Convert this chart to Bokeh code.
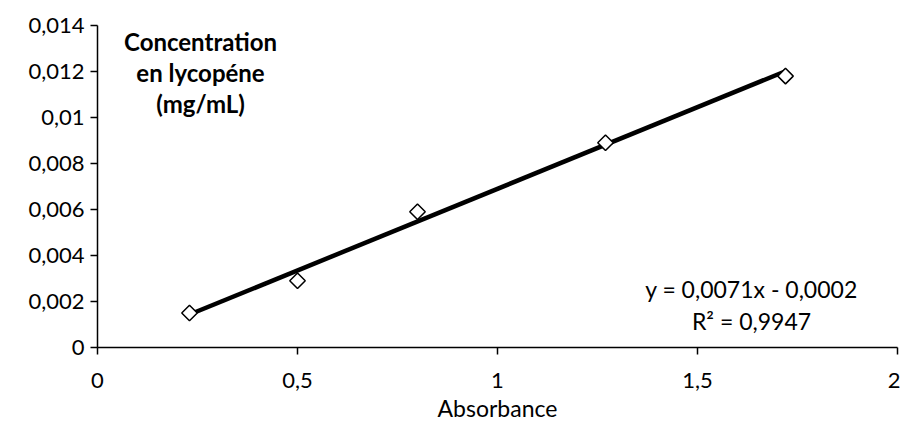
import numpy as np
from bokeh.plotting import figure
from bokeh.models import Range1d, FixedTicker, CustomJSTickFormatter, Label
from bokeh.embed import file_html
from bokeh.resources import INLINE

# Data
absorbance = [0.23, 0.50, 0.80, 1.27, 1.72]
concentration = [0.0015, 0.0029, 0.0059, 0.0089, 0.0118]
slope = 0.0071
intercept = -0.0002
x_ticks = [0, 0.5, 1, 1.5, 2]
y_ticks = [0, 0.002, 0.004, 0.006, 0.008, 0.01, 0.012, 0.014]
title_lines = ["Concentration", "en lycopéne", "(mg/mL)"]
equation_lines = ["y = 0,0071x - 0,0002", "R² = 0,9947"]
x_title = "Absorbance"

FONT = "Lato"

p = figure(width=900, height=428, output_backend="svg", toolbar_location=None,
           x_range=Range1d(0, 2), y_range=Range1d(0, 0.014),
           min_border_left=97, min_border_top=25, min_border_right=3, min_border_bottom=81)
p.outline_line_color = None
p.xgrid.visible = False
p.ygrid.visible = False

fmt = CustomJSTickFormatter(code="return String(parseFloat(tick.toFixed(6))).replace('.', ',');")
for ax, ticks in ((p.xaxis[0], x_ticks), (p.yaxis[0], y_ticks)):
    ax.ticker = FixedTicker(ticks=ticks)
    ax.formatter = fmt
    ax.minor_tick_line_color = None
    ax.major_tick_in = 0
    ax.major_tick_out = 7
    ax.axis_line_color = "black"
    ax.axis_line_width = 1.5
    ax.major_tick_line_color = "black"
    ax.major_tick_line_width = 1.5
    ax.major_label_text_font = FONT
    ax.major_label_text_font_size = "22px"
    ax.major_label_text_color = "black"

p.yaxis.major_label_standoff = 6
p.xaxis.major_label_standoff = 18
p.xaxis.axis_label = x_title
p.xaxis.axis_label_text_font = FONT
p.xaxis.axis_label_text_font_style = "normal"
p.xaxis.axis_label_text_font_size = "23px"
p.xaxis.axis_label_text_color = "black"
p.xaxis.axis_label_standoff = 3

# Trend line
xs = [min(absorbance), max(absorbance)]
ys = [slope * x + intercept for x in xs]
p.line(xs, ys, line_color="black", line_width=4.5)

# Data points (hollow diamonds)
p.scatter(absorbance, concentration, marker="square", angle=np.pi / 4, size=11,
          fill_color="white", line_color="black", line_width=1.5)

# In-plot axis title
for i, t in enumerate(title_lines):
    p.add_layout(Label(x=0.2575, y=0.01330 - i * 0.00135, text=t, text_align="center",
                       text_baseline="middle", text_font=FONT, text_font_style="bold",
                       text_font_size="24px", text_color="black"))

# Equation
for i, t in enumerate(equation_lines):
    p.add_layout(Label(x=1.635, y=0.00255 - i * 0.00139, text=t, text_align="center",
                       text_baseline="middle", text_font=FONT, text_font_size="23px",
                       text_color="black"))

open("out.html", "w").write(file_html(p, INLINE))
